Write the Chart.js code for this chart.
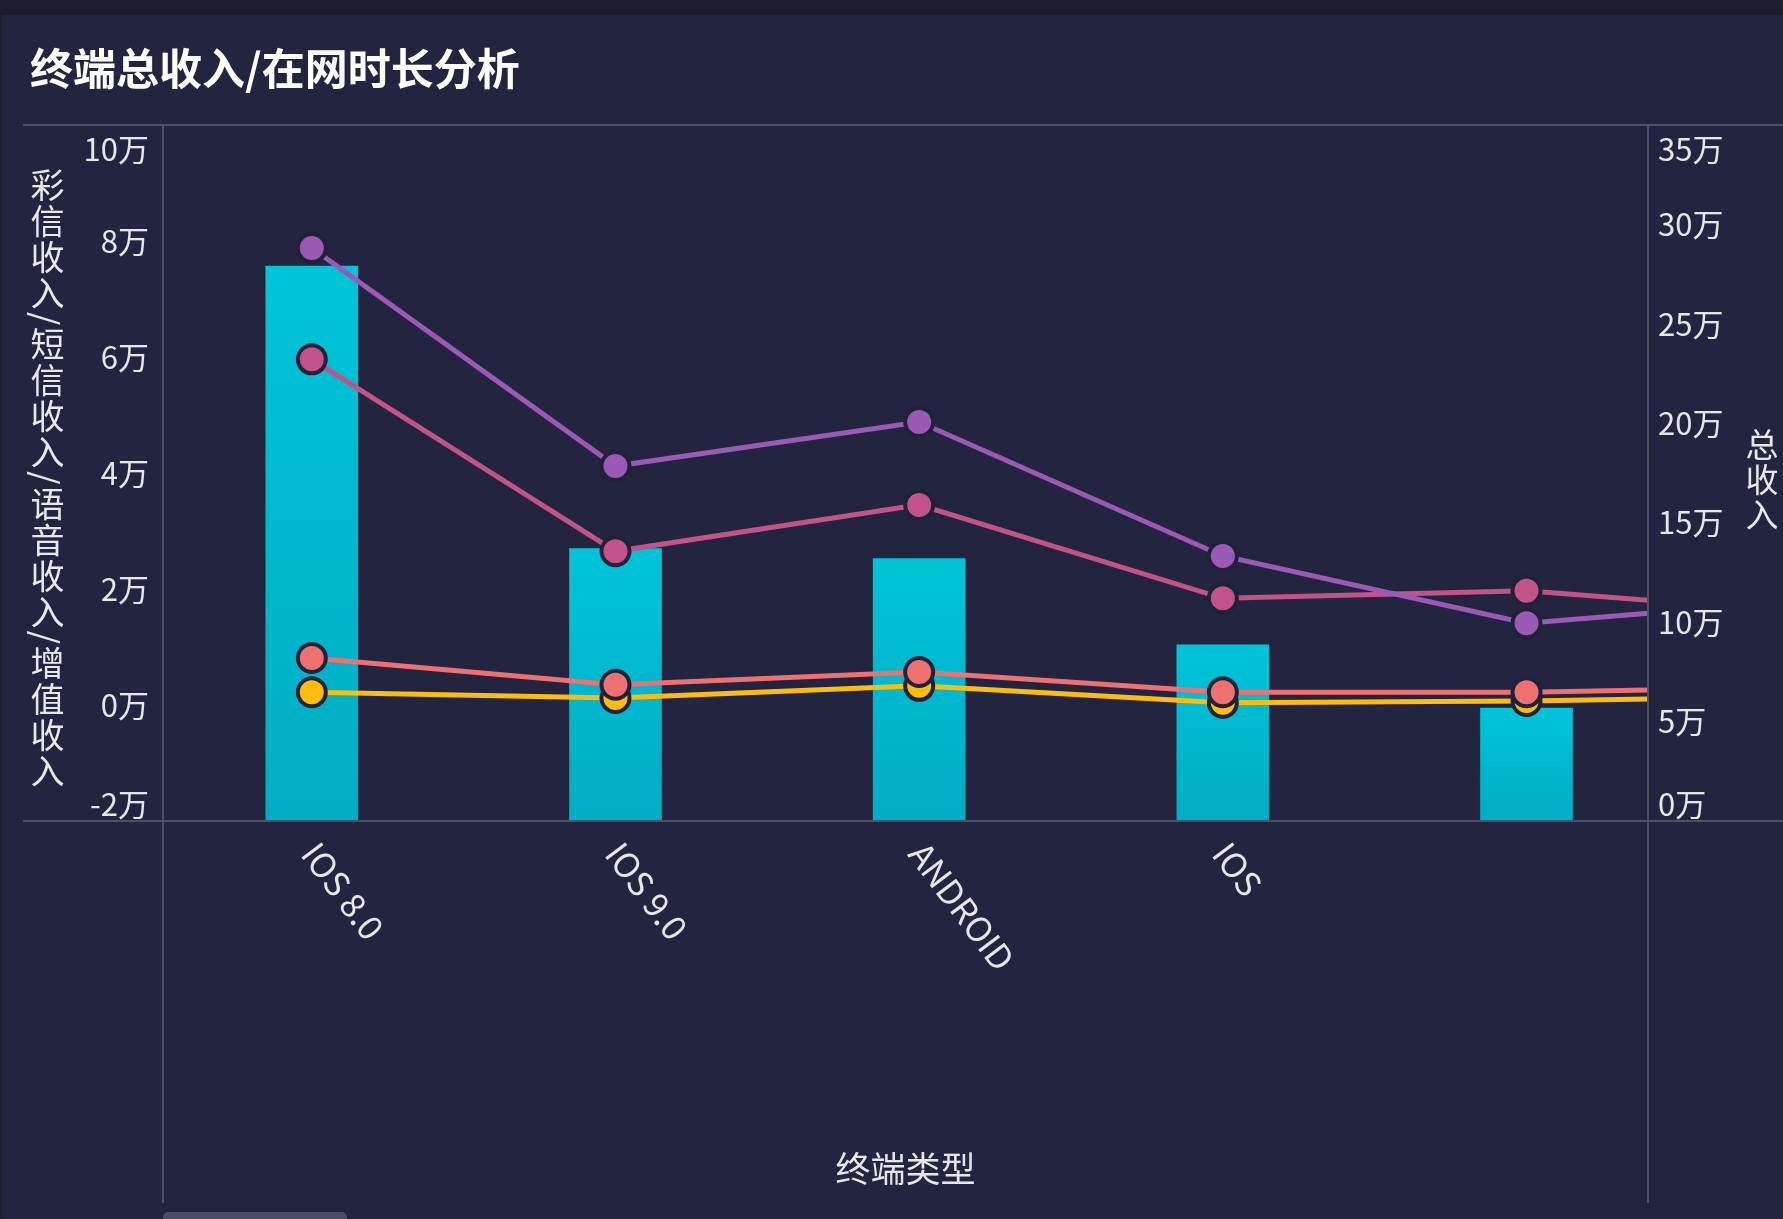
<!DOCTYPE html>
<html><head><meta charset="utf-8">
<script src="https://cdn.jsdelivr.net/npm/chart.js@4.4.1/dist/chart.umd.min.js"></script>
<style>
html,body{margin:0;padding:0;width:1783px;height:1219px;overflow:hidden;background:#23243f;}
#topbar{position:absolute;left:0;top:0;width:1783px;height:15px;background:#1b1c2c;}
#leftbar{position:absolute;left:0;top:15px;width:2px;height:1204px;background:#1b1c2c;}
#title{position:absolute;left:30px;top:40px;font:bold 43px/52px "Noto Sans CJK SC";color:#fff;white-space:nowrap;z-index:2;}
.vname{position:absolute;writing-mode:vertical-rl;color:#e8e8ec;white-space:nowrap;z-index:2;}
#yname{left:30px;top:168px;font:34px/34px "Noto Sans CJK SC";letter-spacing:2px;}
#y1name{left:1745px;top:428px;font:33px/33px "Noto Sans CJK SC";letter-spacing:2px;}
#wrap{position:absolute;left:0;top:0;width:1783px;height:1219px;z-index:1;}
</style></head>
<body>
<div id="topbar"></div><div id="leftbar"></div>
<div id="title">终端总收入/在网时长分析</div>
<div id="yname" class="vname">彩信收入/短信收入/语音收入/增值收入</div>
<div id="y1name" class="vname">总收入</div>
<div id="wrap"><canvas id="c" width="1783" height="1219"></canvas></div>
<script>
// ---- data ----
const categories = ['IOS 8.0', 'IOS 9.0', 'ANDROID', 'IOS', '', ''];
const totalIncome = [279000, 137000, 132000, 88600, 56800, null];   // 总收入 (right axis)
const mmsIncome   = [78800, 41200, 48800, 25700, 14100, 18400];      // 彩信收入
const smsIncome   = [59600, 26500, 34500, 18400, 19700, 15600];      // 短信收入
const voiceIncome = [8100, 3500, 5700, 2200, 2200, 3200];            // 语音收入
const vasIncome   = [2200, 1200, 3300, 400, 700, 1500];              // 增值收入
const leftTicks  = [-20000, 0, 20000, 40000, 60000, 80000, 100000];
const rightTicks = [0, 50000, 100000, 150000, 200000, 250000, 300000, 350000];

const FONT = '"Noto Sans CJK SC", "Noto Sans", sans-serif';
const TXT = '#e6e6ea';
const toXY = arr => arr.map((v, i) => ({x: i, y: v}));
const wan = v => (v / 10000) + '万';

function tickCb(value, index, ticks) {
  const t = wan(value);
  if (index === ticks.length - 1) return ['', t];
  if (index === 0) return [t, ''];
  return t;
}
function tickFont(ctx) {
  let lh = 1.2;
  const sc = ctx && ctx.scale;
  const tk = ctx && ctx.tick;
  if (sc && tk) {
    if (tk.value === sc.options.max) lh = '48px';
    else if (tk.value === sc.options.min) lh = '34px';
  }
  return {family: FONT, size: 31, lineHeight: lh};
}

function lineDs(label, data, color, order) {
  return {
    type: 'line', label, data: toXY(data), yAxisID: 'y',
    borderColor: color, backgroundColor: color, borderWidth: 5,
    pointRadius: 14, pointBorderWidth: 4, pointBorderColor: '#21223a',
    pointBackgroundColor: color, tension: 0, order
  };
}

const decor = {
  id: 'decor',
  afterDraw(chart) {
    const {ctx, chartArea: a, width, height} = chart;
    ctx.save();
    ctx.strokeStyle = '#4f5063';
    ctx.lineWidth = 2;
    ctx.beginPath();
    ctx.moveTo(23, a.top); ctx.lineTo(width, a.top);
    ctx.moveTo(23, a.bottom); ctx.lineTo(width, a.bottom);
    ctx.moveTo(a.left, a.top); ctx.lineTo(a.left, height - 16);
    ctx.moveTo(a.right, a.top); ctx.lineTo(a.right, height - 16);
    ctx.stroke();
    ctx.fillStyle = '#4a4b66';
    ctx.beginPath();
    ctx.roundRect(a.left, height - 7, 184, 14, 5);
    ctx.fill();
    // rotated category labels
    const xs = chart.scales.x;
    ctx.font = '34px ' + FONT;
    ctx.fillStyle = TXT;
    ctx.textAlign = 'left';
    ctx.textBaseline = 'middle';
    categories.forEach((c, i) => {
      const px = xs.getPixelForValue(i);
      if (px < a.left || px > a.right || !c) return;
      ctx.save();
      ctx.translate(px - 2, a.bottom + 26);
      ctx.rotate(53 * Math.PI / 180);
      ctx.fillText(c, 0, 0);
      ctx.restore();
    });
    ctx.restore();
  }
};

new Chart(document.getElementById('c'), {
  type: 'bar',
  data: {
    datasets: [
      lineDs('彩信收入', mmsIncome, '#9b59b6', 1),
      lineDs('短信收入', smsIncome, '#c2538a', 2),
      lineDs('语音收入', voiceIncome, '#ec7170', 3),
      lineDs('增值收入', vasIncome, '#fdbd0f', 4),
      {
        type: 'bar', label: '总收入', data: toXY(totalIncome), yAxisID: 'y1', order: 5,
        barThickness: 92,
        backgroundColor: (ctx) => {
          const ch = ctx.chart, a = ch.chartArea;
          if (!a || !ctx.parsed || ctx.parsed.y == null) return '#00bfd5';
          const top = ch.scales.y1.getPixelForValue(ctx.parsed.y);
          const g = ch.ctx.createLinearGradient(0, top, 0, a.bottom);
          g.addColorStop(0, '#00c4d8');
          g.addColorStop(1, '#00adc4');
          return g;
        }
      }
    ]
  },
  options: {
    responsive: false,
    animation: false,
    events: [],
    layout: {padding: {top: 125, left: 0, right: 0, bottom: 0}},
    plugins: {legend: {display: false}, tooltip: {enabled: false}, title: {display: false}},
    scales: {
      x: {
        type: 'linear', position: 'bottom', min: -0.49, max: 4.4, offset: false,
        grid: {display: false, drawTicks: false, offset: false}, border: {display: false},
        ticks: {display: false},
        afterBuildTicks: s => { s.ticks = categories.map((_, i) => ({value: i})); },
        title: {display: true, text: '终端类型', color: TXT, font: {family: FONT, size: 35}, padding: {top: 0, bottom: 29}},
        afterFit: s => { s.height = 398; }
      },
      y: {
        type: 'linear', position: 'left', min: leftTicks[0], max: leftTicks[leftTicks.length - 1],
        grid: {display: false, drawTicks: false}, border: {display: false},
        afterBuildTicks: s => { s.ticks = leftTicks.map(v => ({value: v})); },
        ticks: {color: TXT, padding: 14, callback: tickCb, font: tickFont},
        afterFit: s => { s.width = 163; }
      },
      y1: {
        type: 'linear', position: 'right', min: rightTicks[0], max: rightTicks[rightTicks.length - 1],
        grid: {display: false, drawTicks: false}, border: {display: false},
        afterBuildTicks: s => { s.ticks = rightTicks.map(v => ({value: v})); },
        ticks: {color: TXT, padding: 10, callback: tickCb, font: tickFont},
        afterFit: s => { s.width = 135; }
      }
    }
  },
  plugins: [decor]
});
</script>
</body></html>
